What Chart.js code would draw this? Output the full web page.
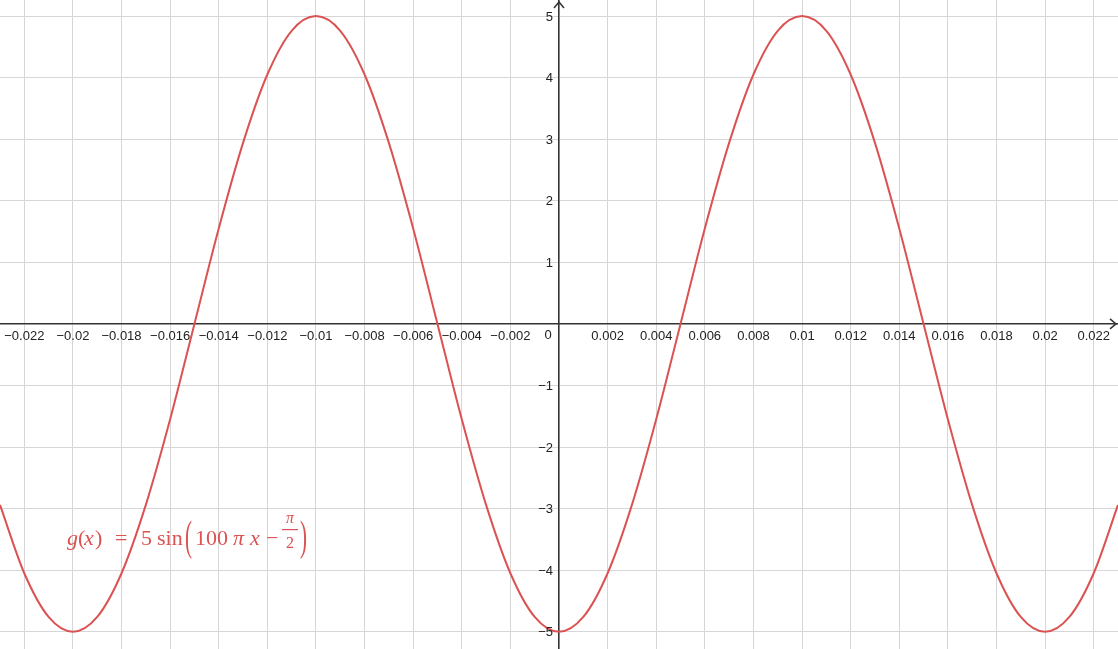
<!DOCTYPE html>
<html>
<head>
<meta charset="utf-8">
<script src="https://cdn.jsdelivr.net/npm/chart.js@4.4.1/dist/chart.umd.min.js"></script>
<style>
  html, body { margin: 0; padding: 0; background: #fff; overflow: hidden; }
  #wrap { width: 1118px; height: 649px; }
</style>
</head>
<body>
<div id="wrap"><canvas id="plot" width="1118" height="649"></canvas></div>
<script>
const xValues = [
  -0.023, -0.022, -0.021, -0.020, -0.019, -0.018, -0.017, -0.016, -0.015, -0.014, -0.013, -0.012,
  -0.011, -0.010, -0.009, -0.008, -0.007, -0.006, -0.005, -0.004, -0.003, -0.002, -0.001,
  0,
  0.001, 0.002, 0.003, 0.004, 0.005, 0.006, 0.007, 0.008, 0.009, 0.010, 0.011, 0.012,
  0.013, 0.014, 0.015, 0.016, 0.017, 0.018, 0.019, 0.020, 0.021, 0.022, 0.023
];
const gValues = [
  -2.94, -4.05, -4.76, -5, -4.76, -4.05, -2.94, -1.55, 0, 1.55, 2.94, 4.05,
  4.76, 5, 4.76, 4.05, 2.94, 1.55, 0, -1.55, -2.94, -4.05, -4.76,
  -5,
  -4.76, -4.05, -2.94, -1.55, 0, 1.55, 2.94, 4.05, 4.76, 5, 4.76, 4.05,
  2.94, 1.55, 0, -1.55, -2.94, -4.05, -4.76, -5, -4.76, -4.05, -2.94
];

// tick values (grid lines + labels)
const xTicks = [
  -0.022, -0.02, -0.018, -0.016, -0.014, -0.012, -0.01, -0.008, -0.006, -0.004, -0.002,
  0, 0.002, 0.004, 0.006, 0.008, 0.01, 0.012, 0.014, 0.016, 0.018, 0.02, 0.022
];
const yTicks = [-5, -4, -3, -2, -1, 0, 1, 2, 3, 4, 5];

// axis ranges
const xRange = [-0.023, 0.023];
const yRange = [-5.28, 5.26];

const curveColor = "rgb(219, 82, 82)";
const axisColor = "#333";
const gridColor = "#d6d6d6";
const sans = "'Liberation Sans', Arial, sans-serif";
const labelFont = { family: sans, size: 13 };

function fmt(v, decimals) {
  const r = Math.round(v * Math.pow(10, decimals)) / Math.pow(10, decimals);
  if (r === 0) return "";
  return String(r).replace("-", "\u2212");
}

// drops the label overflow padding so the plot fills the whole canvas
function noPad(scale) {
  scale.paddingTop = 0;
  scale.paddingBottom = 0;
  scale.paddingLeft = 0;
  scale.paddingRight = 0;
}

// y labels, arrows, the origin "0" and the formula
const extras = {
  id: "extras",
  afterDraw(chart) {
    const ctx = chart.ctx;
    const { x, y } = chart.scales;
    const area = chart.chartArea;
    const ox = x.getPixelForValue(0);
    const oy = y.getPixelForValue(0);

    ctx.save();
    // y tick labels, right aligned left of the axis
    ctx.fillStyle = "#222";
    ctx.font = "13px " + sans;
    ctx.textAlign = "right";
    ctx.textBaseline = "middle";
    y.ticks.forEach(t => {
      const s = fmt(t.value, 0);
      if (s) ctx.fillText(s, ox - 6, y.getPixelForValue(t.value) + 1);
    });
    // origin label
    ctx.textAlign = "center";
    ctx.fillText("0", ox - 11, oy + 12);

    ctx.strokeStyle = axisColor;
    ctx.lineWidth = 1.5;
    // arrow on y axis
    ctx.beginPath();
    ctx.moveTo(ox - 5, area.top + 8);
    ctx.lineTo(ox, area.top + 2);
    ctx.lineTo(ox + 5, area.top + 8);
    ctx.stroke();
    // arrow on x axis
    ctx.beginPath();
    ctx.moveTo(area.right - 8, oy - 5);
    ctx.lineTo(area.right - 2, oy);
    ctx.lineTo(area.right - 8, oy + 5);
    ctx.stroke();

    // g(x) = 5 sin(100 pi x - pi/2)
    const L = area.left, T = area.top;
    const base = T + 545;
    const serif = "'Liberation Serif', 'Times New Roman', serif";
    const put = (txt, px, py, style) => {
      ctx.font = style + " " + serif;
      ctx.fillText(txt, L + px, py);
    };
    ctx.fillStyle = curveColor;
    ctx.textAlign = "left";
    ctx.textBaseline = "alphabetic";
    put("g", 67, base, "italic 22px");
    put("(", 78, base, "22px");
    put("x", 84, base, "italic 22px");
    put(")", 95, base, "22px");
    put("=", 115, base, "22px");
    put("5", 141, base, "22px");
    put("sin", 157, base, "22px");
    put("100", 195, base, "22px");
    put("\u03c0", 233, base, "italic 22px");
    put("x", 250, base, "italic 22px");
    put("\u2212", 266, base, "22px");
    // fraction pi / 2
    ctx.textAlign = "center";
    put("\u03c0", 290, T + 523, "italic 16px");
    put("2", 290, T + 548, "16px");
    ctx.fillRect(L + 282, T + 529, 16, 1.2);
    // tall parentheses
    ctx.textAlign = "left";
    ctx.font = "21px " + serif;
    [["(", 185], [")", 300]].forEach(([ch, px]) => {
      ctx.save();
      ctx.translate(L + px, T + 550);
      ctx.scale(1, 2.05);
      ctx.fillText(ch, 0, 0);
      ctx.restore();
    });
    ctx.restore();
  }
};

const points = xValues.map((v, i) => ({ x: v, y: gValues[i] }));

new Chart(document.getElementById("plot"), {
  type: "line",
  data: {
    datasets: [{
      label: "g(x)",
      data: points,
      borderColor: curveColor,
      borderWidth: 2,
      pointRadius: 0,
      fill: false,
      cubicInterpolationMode: "monotone"
    }]
  },
  options: {
    responsive: false,
    animation: false,
    devicePixelRatio: 1,
    layout: { padding: 0 },
    plugins: {
      legend: { display: false },
      tooltip: { enabled: false }
    },
    scales: {
      x: {
        type: "linear",
        position: { y: 0 },
        min: xRange[0],
        max: xRange[1],
        afterBuildTicks: (s) => { s.ticks = xTicks.map(v => ({ value: v })); },
        afterFit: noPad,
        grid: { color: gridColor, lineWidth: 1, drawTicks: false },
        border: { color: axisColor, width: 1.5 },
        ticks: {
          autoSkip: false,
          maxRotation: 0,
          padding: 5,
          color: "#222",
          font: labelFont,
          callback: (v) => fmt(v, 3)
        }
      },
      y: {
        type: "linear",
        position: { x: 0 },
        min: yRange[0],
        max: yRange[1],
        afterBuildTicks: (s) => { s.ticks = yTicks.map(v => ({ value: v })); },
        afterFit: noPad,
        grid: { color: gridColor, lineWidth: 1, drawTicks: false },
        border: { color: axisColor, width: 1.5 },
        ticks: { display: false }
      }
    }
  },
  plugins: [extras]
});
</script>
</body>
</html>
